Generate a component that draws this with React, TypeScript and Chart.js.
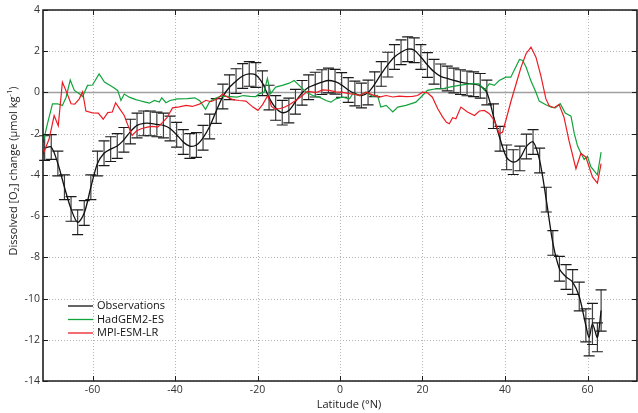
import React, { useEffect, useRef } from "react";
import { Chart, registerables } from "chart.js";

Chart.register(...registerables);

const xTicks = [-60, -40, -20, 0, 20, 40, 60];
const yTicks = [4, 2, 0, -2, -4, -6, -8, -10, -12, -14];

const seriesNames = ["Observations", "HadGEM2-ES", "MPI-ESM-LR"];

const obsLat = [
  -71.6, -70.0, -68.4, -66.8, -65.2, -63.6, -62.0, -60.4, -58.8, -57.2,
  -55.6, -54.0, -52.4, -50.8, -49.2, -47.6, -46.0, -44.4, -42.8, -41.2,
  -39.6, -38.0, -36.4, -34.8, -33.2, -31.6, -30.0, -28.4, -26.8, -25.2,
  -23.6, -22.0, -20.4, -18.8, -17.2, -15.6, -14.0, -12.4, -10.8, -9.2,
  -7.6, -6.0, -4.4, -2.8, -1.2, 0.4, 2.0, 3.6, 5.2, 6.8,
  8.4, 10.0, 11.6, 13.2, 14.8, 16.4, 18.0, 19.6, 21.2, 22.8,
  24.4, 26.0, 27.6, 29.2, 30.8, 32.4, 34.0, 35.6, 37.2, 38.8,
  40.4, 42.0, 43.6, 45.2, 46.8, 48.4, 50.0, 51.6, 53.2, 54.8,
  56.4, 58.0, 59.6, 60.4, 61.2, 62.4, 63.3,
];
const obsVal = [
  -2.7, -2.65, -3.45, -4.6, -5.65, -6.3, -5.85, -4.6, -3.45, -2.95,
  -2.75, -2.6, -2.3, -1.9, -1.6, -1.5, -1.5, -1.55, -1.6, -1.75,
  -2.05, -2.4, -2.6, -2.55, -2.2, -1.65, -0.9, -0.2, 0.25, 0.55,
  0.8, 0.9, 0.85, 0.45, -0.25, -0.75, -0.98, -0.88, -0.45, -0.02,
  0.25, 0.38, 0.5, 0.58, 0.52, 0.36, 0.12, -0.05, -0.15, 0.0,
  0.4, 0.9, 1.35, 1.72, 1.95, 2.1, 2.05, 1.72, 1.33, 1.0,
  0.78, 0.68, 0.58, 0.5, 0.44, 0.4, 0.32, 0.0, -1.15, -2.25,
  -3.15, -3.38, -3.2, -2.62, -2.4, -3.3, -5.2, -7.3, -8.55, -8.95,
  -9.2, -9.9, -11.3, -11.88, -11.23, -11.88, -10.58,
];
const obsErr = [
  0.6, 0.6, 0.6, 0.6, 0.6, 0.6, 0.6, 0.6, 0.6, 0.6,
  0.6, 0.6, 0.6, 0.6, 0.6, 0.6, 0.6, 0.6, 0.6, 0.6,
  0.6, 0.6, 0.6, 0.6, 0.6, 0.6, 0.6, 0.6, 0.6, 0.6,
  0.6, 0.6, 0.6, 0.6, 0.6, 0.6, 0.6, 0.6, 0.6, 0.6,
  0.6, 0.6, 0.6, 0.6, 0.6, 0.6, 0.6, 0.6, 0.6, 0.6,
  0.6, 0.6, 0.6, 0.6, 0.6, 0.6, 0.6, 0.6, 0.6, 0.6,
  0.6, 0.6, 0.6, 0.6, 0.6, 0.6, 0.6, 0.6, 0.6, 0.6,
  0.6, 0.6, 0.6, 0.6, 0.6, 0.6, 0.6, 0.6, 0.6, 0.6,
  0.6, 0.7, 0.8, 0.9, 1.0, 0.7, 1.0,
];

const hadLat = [
  -72.0, -70.9, -69.7, -68.5, -67.3, -66.4, -65.4, -64.4, -63.2, -62.4,
  -61.2, -60.0, -58.4, -57.1, -55.1, -53.9, -53.1, -52.3, -51.1, -49.5,
  -48.7, -47.2, -46.2, -45.0, -43.8, -43.2, -42.2, -41.2, -39.4, -37.0,
  -35.2, -34.0, -32.6, -31.6, -30.2, -29.0, -27.4, -25.0, -23.4, -21.8,
  -20.4, -19.6, -18.4, -17.6, -16.8, -15.6, -14.0, -12.3, -11.1, -9.9,
  -8.2, -6.6, -5.0, -3.4, -2.2, -1.0, 0.6, 2.3, 3.1, 4.7,
  6.3, 7.9, 9.1, 9.9, 11.2, 12.8, 14.0, 16.0, 18.4, 20.0,
  21.2, 23.3, 24.9, 26.5, 28.9, 31.3, 33.7, 35.0, 36.2, 37.4,
  38.6, 40.2, 41.4, 42.2, 43.5, 44.3, 45.1, 46.3, 47.5, 48.3,
  49.9, 51.2, 52.2, 53.4, 54.6, 56.0, 56.8, 57.6, 58.4, 59.2,
  60.0, 60.8, 62.4, 63.3,
];
const hadVal = [
  -2.45, -1.5, -0.55, -0.55, -0.63, -0.23, 0.6, 0.1, -0.06, -0.2,
  0.34, 0.36, 0.9, 0.5, 0.26, 0.1, -0.39, -0.08, -0.23, -0.35,
  -0.39, -0.47, -0.52, -0.39, -0.47, -0.26, -0.5, -0.39, -0.31, -0.3,
  -0.26, -0.4, -0.82, -0.45, -0.28, -0.19, -0.19, -0.23, -0.15, -0.19,
  -0.2, -0.06, 0.01, 0.68, -0.06, 0.26, 0.34, 0.45, 0.58, 0.34,
  0.01, -0.15, -0.23, -0.39, -0.47, -0.31, -0.23, -0.31, -0.06, -0.15,
  0.01, -0.19, -0.15, -0.71, -0.63, -0.95, -0.71, -0.63, -0.47, -0.15,
  0.1, 0.18, 0.18, 0.26, 0.34, 0.42, 0.42, 0.1, 0.42, 0.34,
  0.58, 0.74, 0.74, 1.07, 1.6, 1.55, 1.23, 0.55, 0.01, -0.42,
  -0.6, -0.71, -0.75, -0.55, -1.0, -1.15, -2.0, -2.6, -2.95, -3.25,
  -3.1, -3.6, -4.0, -2.9,
];

const mpiLat = [
  -72.1, -70.5, -69.3, -68.3, -67.3, -66.2, -65.2, -64.3, -63.2, -62.4,
  -61.6, -60.0, -58.6, -57.4, -56.3, -55.2, -54.4, -53.4, -52.3, -51.5,
  -50.4, -49.3, -48.0, -46.7, -45.5, -44.2, -43.0, -42.0, -40.6, -39.0,
  -37.3, -35.8, -34.1, -32.5, -31.3, -29.7, -28.5, -27.2, -26.0, -24.4,
  -22.8, -21.2, -19.9, -18.8, -17.5, -16.6, -15.8, -14.7, -13.5, -12.3,
  -10.7, -9.1, -7.9, -5.8, -4.2, -2.6, -1.0, 0.6, 2.3, 3.9,
  4.7, 6.3, 7.9, 9.5, 11.2, 12.8, 14.4, 16.0, 17.6, 18.8,
  20.0, 21.2, 22.4, 23.7, 24.9, 25.8, 26.5, 27.3, 28.1, 29.3,
  30.9, 32.6, 33.8, 35.0, 36.2, 37.4, 38.6, 39.4, 40.2, 41.5,
  42.7, 43.9, 45.1, 46.3, 47.5, 48.7, 49.9, 50.7, 51.9, 53.1,
  54.3, 55.5, 57.2, 58.4, 59.6, 61.2, 62.4, 63.3,
];
const mpiVal = [
  -3.06, -2.25, -1.12, -1.62, 0.5, -0.03, -0.55, -0.57, -0.31, 0.03,
  -0.9, -0.99, -1.0, -1.3, -0.98, -0.95, -0.5, -0.8, -1.12, -1.55,
  -2.09, -1.86, -1.75, -1.68, -1.65, -1.68, -1.45, -1.24, -0.75, -0.7,
  -0.63, -0.68, -0.57, -0.38, -0.45, -0.31, -0.08, -0.23, -0.35, -0.39,
  -0.42, -0.7, -0.87, -0.6, -0.15, -0.68, -0.8, -0.79, -0.72, -0.6,
  -0.39, -0.15, 0.05, 0.0, 0.12, 0.1, 0.03, 0.0, -0.06, -0.1,
  -0.15, 0.01, -0.12, -0.23, -0.15, -0.22, -0.18, -0.2, -0.19, -0.15,
  0.01, -0.02, -0.23, -0.79, -1.2, -1.45, -1.52, -1.23, -1.28, -0.71,
  -0.95, -1.12, -0.9, -0.87, -1.03, -1.36, -2.0, -1.93, -1.36, -0.39,
  0.42, 1.23, 1.88, 2.2, 1.71, 0.8, -0.3, -0.65, -0.74, -0.58,
  -1.2, -2.33, -3.7, -2.95, -3.14, -4.1, -4.4, -3.45,
];

const OBS_COLOR = "#111111";
const HAD_COLOR = "#12a33c";
const MPI_COLOR = "#ec1c24";
const FONT = "'Open Sans', 'Noto Sans', sans-serif";

const decorPlugin = {
  id: "decor",
  beforeDatasetsDraw(chart: any) {
    const { ctx, chartArea: a, scales } = chart;
    const xs = scales.x;
    const ys = scales.y;
    ctx.save();
    // dotted grid
    ctx.strokeStyle = "#b4b4b4";
    ctx.lineWidth = 1;
    ctx.setLineDash([1, 2]);
    xTicks.forEach((v) => {
      const px = Math.round(xs.getPixelForValue(v)) + 0.5;
      ctx.beginPath();
      ctx.moveTo(px, a.top);
      ctx.lineTo(px, a.bottom);
      ctx.stroke();
    });
    yTicks.forEach((v) => {
      if (v === 0) return;
      const py = Math.round(ys.getPixelForValue(v)) + 0.5;
      ctx.beginPath();
      ctx.moveTo(a.left, py);
      ctx.lineTo(a.right, py);
      ctx.stroke();
    });
    ctx.setLineDash([]);
    // zero line
    ctx.strokeStyle = "#a0a0a0";
    ctx.lineWidth = 1.6;
    const y0 = ys.getPixelForValue(0);
    ctx.beginPath();
    ctx.moveTo(a.left, y0);
    ctx.lineTo(a.right, y0);
    ctx.stroke();
    // error bars
    obsLat.forEach((lat, i) => {
      const px = xs.getPixelForValue(lat);
      const yt = ys.getPixelForValue(obsVal[i] + obsErr[i]);
      const yb = ys.getPixelForValue(obsVal[i] - obsErr[i]);
      ctx.strokeStyle = "#404040";
      ctx.lineWidth = 1.2;
      ctx.beginPath();
      ctx.moveTo(px, yt);
      ctx.lineTo(px, yb);
      ctx.stroke();
      ctx.strokeStyle = "#1a1a1a";
      ctx.lineWidth = 1.2;
      ctx.beginPath();
      ctx.moveTo(px - 5.5, yt);
      ctx.lineTo(px + 5.5, yt);
      ctx.moveTo(px - 5.5, yb);
      ctx.lineTo(px + 5.5, yb);
      ctx.stroke();
    });
    ctx.restore();
  },
  afterDraw(chart: any) {
    const { ctx, chartArea: a, scales } = chart;
    const xs = scales.x;
    const ys = scales.y;
    ctx.save();
    // frame
    ctx.strokeStyle = "#1e1e1e";
    ctx.lineWidth = 1.6;
    ctx.beginPath();
    ctx.moveTo(a.left, a.top);
    ctx.lineTo(a.right, a.top);
    ctx.lineTo(a.right, a.bottom);
    ctx.lineTo(a.left, a.bottom);
    ctx.closePath();
    ctx.stroke();
    // inward ticks
    ctx.lineWidth = 1;
    const tl = 5;
    ctx.beginPath();
    xTicks.forEach((v) => {
      const px = Math.round(xs.getPixelForValue(v)) + 0.5;
      ctx.moveTo(px, a.bottom);
      ctx.lineTo(px, a.bottom - tl);
      ctx.moveTo(px, a.top);
      ctx.lineTo(px, a.top + tl);
    });
    yTicks.forEach((v) => {
      const py = Math.round(ys.getPixelForValue(v)) + 0.5;
      ctx.moveTo(a.left, py);
      ctx.lineTo(a.left + tl, py);
      ctx.moveTo(a.right, py);
      ctx.lineTo(a.right - tl, py);
    });
    ctx.stroke();

    // legend
    const colors = [OBS_COLOR, HAD_COLOR, MPI_COLOR];
    const rows = [306, 319.5, 333];
    ctx.font = `11px ${FONT}`;
    ctx.textBaseline = "middle";
    ctx.textAlign = "left";
    seriesNames.forEach((name, i) => {
      ctx.strokeStyle = colors[i];
      ctx.lineWidth = 1.3;
      ctx.beginPath();
      ctx.moveTo(68, rows[i]);
      ctx.lineTo(93, rows[i]);
      ctx.stroke();
      ctx.fillStyle = "#111";
      ctx.fillText(name, 97, rows[i]);
    });

    // x title
    ctx.fillStyle = "#222";
    ctx.font = `11px ${FONT}`;
    ctx.textAlign = "center";
    ctx.fillText("Latitude (°N)", 349, 405);

    // y title with sub/superscript
    const big = `11px ${FONT}`;
    const small = `7.5px ${FONT}`;
    const parts: [string, string, number][] = [
      ["Dissolved [O", big, 0],
      ["2", small, 3],
      ["] change (μmol kg", big, 0],
      ["-1", small, -4],
      [")", big, 0],
    ];
    let total = 0;
    parts.forEach(([t, f]) => {
      ctx.font = f;
      total += ctx.measureText(t).width;
    });
    ctx.translate(14, 171);
    ctx.rotate(-Math.PI / 2);
    ctx.textAlign = "left";
    let cx = -total / 2;
    parts.forEach(([t, f, dy]) => {
      ctx.font = f;
      ctx.fillText(t, cx, dy);
      cx += ctx.measureText(t).width;
    });
    ctx.restore();
  },
};

export default function App() {
  const ref = useRef<HTMLCanvasElement | null>(null);
  useEffect(() => {
    if (!ref.current) return;
    Chart.defaults.font.family = FONT;
    const chart = new Chart(ref.current, {
      type: "line",
      data: {
        datasets: [
          {
            label: seriesNames[2],
            data: mpiLat.map((x, i) => ({ x, y: mpiVal[i] })),
            borderColor: MPI_COLOR,
            borderWidth: 1.2,
            pointRadius: 0,
            tension: 0,
            fill: false,
          },
          {
            label: seriesNames[1],
            data: hadLat.map((x, i) => ({ x, y: hadVal[i] })),
            borderColor: HAD_COLOR,
            borderWidth: 1.2,
            pointRadius: 0,
            tension: 0,
            fill: false,
          },
          {
            label: seriesNames[0],
            data: obsLat.map((x, i) => ({ x, y: obsVal[i] })),
            borderColor: OBS_COLOR,
            borderWidth: 1.3,
            pointRadius: 0,
            tension: 0.3,
            fill: false,
          },
        ],
      },
      options: {
        animation: false,
        responsive: true,
        maintainAspectRatio: false,
        layout: { padding: { top: 10, right: 1, left: 0, bottom: 0 } },
        plugins: {
          legend: { display: false },
          tooltip: { enabled: false },
        },
        scales: {
          x: {
            type: "linear",
            min: -72,
            max: 72,
            afterBuildTicks: (s: any) => {
              s.ticks = xTicks.map((v) => ({ value: v }));
            },
            afterFit: (s: any) => {
              s.height = 32;
            },
            grid: { display: false, drawTicks: false },
            border: { display: false },
            ticks: {
              padding: 3,
              color: "#333",
              font: { size: 10.5, family: FONT },
              maxRotation: 0,
              autoSkip: false,
              callback: (v: any) => String(v),
            },
          },
          y: {
            type: "linear",
            min: -14,
            max: 4,
            afterBuildTicks: (s: any) => {
              s.ticks = yTicks.map((v) => ({ value: v }));
            },
            afterFit: (s: any) => {
              s.width = 43;
            },
            grid: { display: false, drawTicks: false },
            border: { display: false },
            ticks: {
              padding: 3,
              color: "#333",
              font: { size: 10.5, family: FONT },
              autoSkip: false,
              callback: (v: any) => String(v),
            },
          },
        },
      },
      plugins: [decorPlugin],
    } as any);
    return () => chart.destroy();
  }, []);
  return (
    <div style={{ position: "absolute", left: 0, top: 0, width: 638, height: 413, background: "#fff" }}>
      <canvas ref={ref} />
    </div>
  );
}
